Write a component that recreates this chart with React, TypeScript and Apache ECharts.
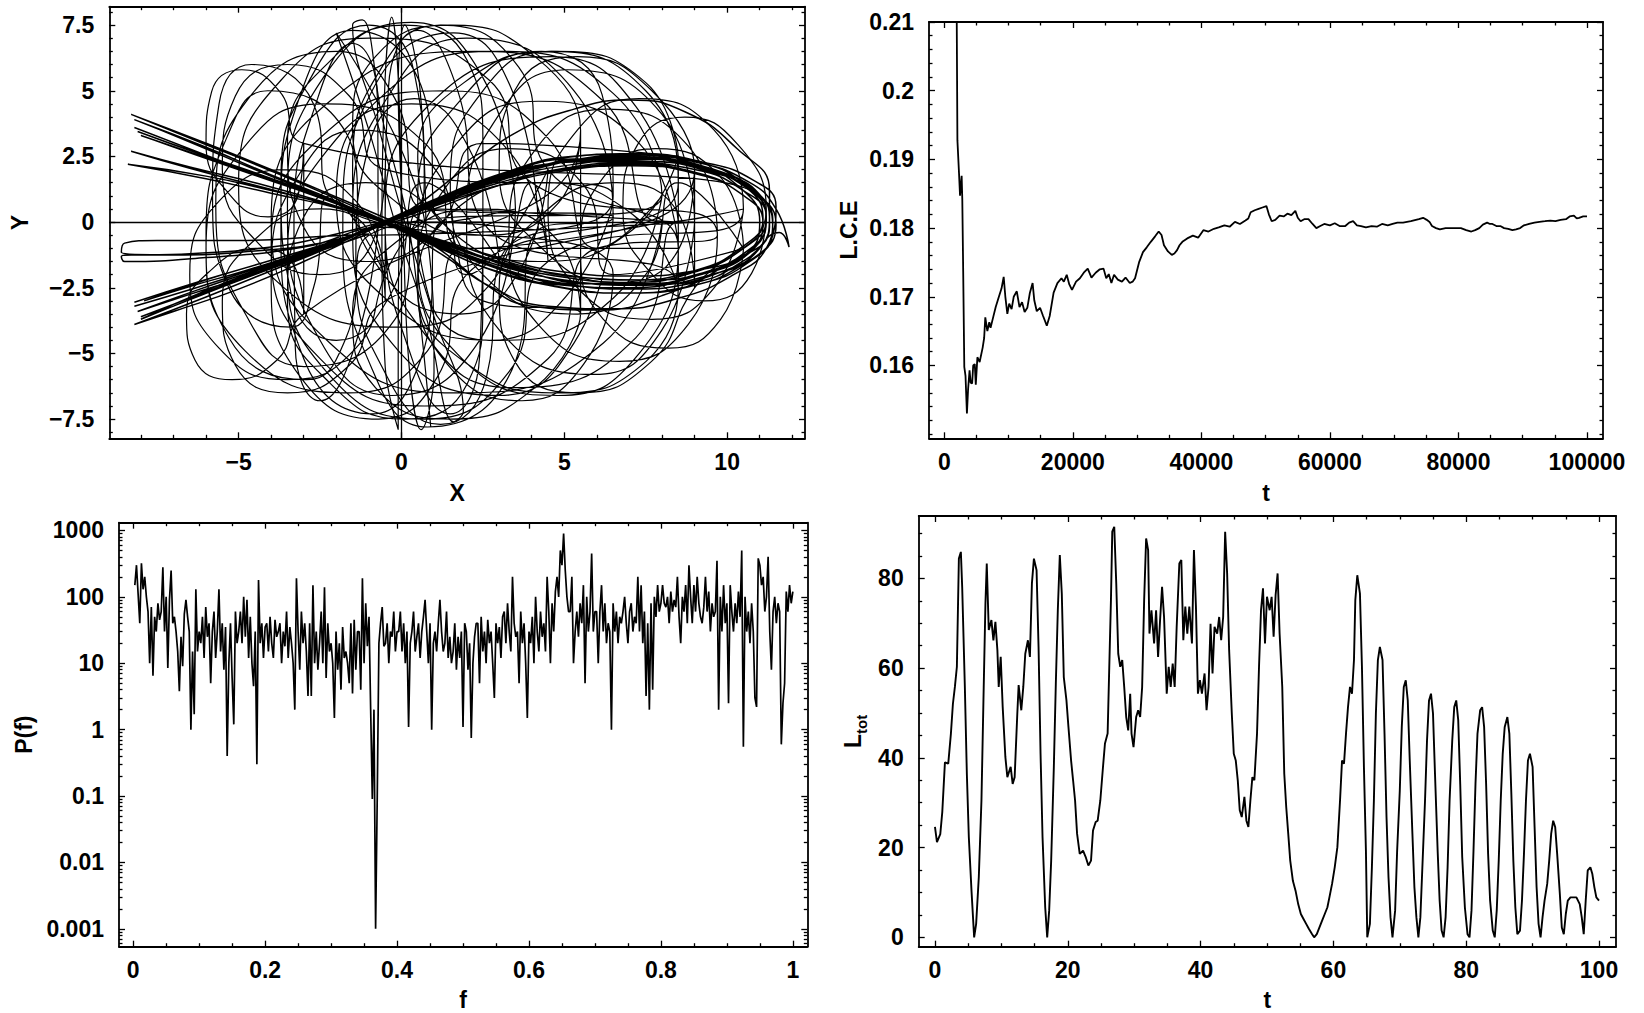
import React, { useEffect, useRef } from "react";
import * as echarts from "echarts";

const FONT = "'Liberation Sans', Arial, Helvetica, sans-serif";
const INK = "#000";

// ---------- Orbit in the (X, Y) plane, stored flat as x, y, x, y, ...
// Looping passes that fill the round cloud
const orbitLoops: number[] = [
  3.5, 0.5, 2.5, 5.5, 0.3, 7.6, -2.4, 5.5, -3.5, 0.5, -2.5, -4.5, -0.3, -6.6, 2.4, -4.5, 3.5, 0.5,
  1.3, 0, 0.6, 5.2, -1.5, 7.3, -3.0, 5.2, -3.7, 0, -3.0, -5.2, -0.9, -7.3, 0.6, -5.2, 1.3, 0,
  4.2, -0.3, 3.4, 5.0, 1.6, 7.2, -0.9, 5.0, -1.8, -0.3, -0.9, -5.6, 0.8, -7.8, 3.4, -5.6, 4.2, -0.3,
  6.5, 0.2, 5.3, 5.0, 2.0, 7.0, -0.3, 5.0, -1.5, 0.2, -0.3, -4.6, 3.0, -6.6, 5.3, -4.6, 6.5, 0.2,
  0.7, 0.5, -0.2, 4.7, -2.0, 6.5, -4.7, 4.7, -5.7, 0.5, -4.7, -3.7, -3.0, -5.5, -0.2, -3.7, 0.7, 0.5,
  8.5, 0, 7.2, 4.4, 4.6, 6.3, 0.8, 4.4, -0.5, 0, 0.8, -4.4, 3.4, -6.3, 7.2, -4.4, 8.5, 0,
  9.0, 0, 8.0, 4.1, 5.1, 5.8, 3.0, 4.1, 2.0, 0, 3.0, -4.1, 5.9, -5.8, 8.0, -4.1, 9.0, 0,
  -1.0, -0.5, -1.7, 3.4, -4.1, 5.0, -5.3, 3.4, -6.0, -0.5, -5.3, -4.4, -2.9, -6.0, -1.7, -4.4, -1.0, -0.5,
  8.0, 1.0, 6.5, 4.9, 3.0, 6.5, -0.5, 4.9, -2.0, 1.0, -0.5, -2.9, 3.0, -4.5, 6.5, -2.9, 8.0, 1.0,
  6.0, -1.0, 4.5, 3.2, 1.3, 5.0, -2.5, 3.2, -4.0, -1.0, -2.5, -5.2, 0.7, -7.0, 4.5, -5.2, 6.0, -1.0,
  9.7, -0.5, 8.8, 2.9, 6.3, 4.3, 4.2, 2.9, 3.3, -0.5, 4.2, -3.9, 6.7, -5.3, 8.8, -3.9, 9.7, -0.5,
  4.0, 1.5, 2.7, 5.4, -1.0, 7.0, -3.7, 5.4, -5.0, 1.5, -3.7, -2.4, 0.0, -4.0, 2.7, -2.4, 4.0, 1.5,
  4.5, -1.5, 3.3, 2.7, 0.3, 4.5, -2.3, 2.7, -3.5, -1.5, -2.3, -5.7, 0.7, -7.5, 3.3, -5.7, 4.5, -1.5,
  10.5, 0.5, 9.6, 3.5, 7.3, 4.7, 5.4, 3.5, 4.5, 0.5, 5.4, -2.5, 7.7, -3.7, 9.6, -2.5, 10.5, 0.5,
  8.0, 0, 6.2, 4.6, 2.3, 6.5, -2.2, 4.6, -4.0, 0, -2.2, -4.6, 1.7, -6.5, 6.2, -4.6, 8.0, 0,
  2.0, -1.0, 0.8, 2.9, -2.4, 4.5, -4.8, 2.9, -6.0, -1.0, -4.8, -4.9, -1.6, -6.5, 0.8, -4.9, 2.0, -1.0,
  8.5, -1.0, 7.3, 3.0, 4.2, 4.6, 1.7, 3.0, 0.5, -1.0, 1.7, -5.0, 4.8, -6.6, 7.3, -5.0, 8.5, -1.0,
  4.5, 2.0, 3.6, 5.9, 1.2, 7.5, -0.6, 5.9, -1.5, 2.0, -0.6, -1.9, 1.8, -3.5, 3.6, -1.9, 4.5, 2.0,
  2.0, -2.0, 1.1, 1.9, -1.3, 3.5, -3.1, 1.9, -4.0, -2.0, -3.1, -5.9, -0.7, -7.5, 1.1, -5.9, 2.0, -2.0,
  8.5, 1.5, 7.5, 5.0, 4.6, 6.5, 2.5, 5.0, 1.5, 1.5, 2.5, -2.0, 5.4, -3.5, 7.5, -2.0, 8.5, 1.5,
  10.5, -1.0, 9.8, 1.7, 7.8, 2.8, 6.2, 1.7, 5.5, -1.0, 6.2, -3.7, 8.2, -4.8, 9.8, -3.7, 10.5, -1.0,
  6.5, -2.0, 5.6, 1.4, 3.3, 2.8, 1.4, 1.4, 0.5, -2.0, 1.4, -5.4, 3.7, -6.8, 5.6, -5.4, 6.5, -2.0,
  -2.2, 1, -2.7, 4.5, -4.6, 6.0, -5.6, 4.5, -5.8, 1, -5.3, -2.5, -3.4, -4.0, -2.7, -2.5, -2.2, 1,
  -0.5, -2, -1.4, 0.8, -3.5, 2, -5.6, 0.8, -6.5, -2, -5.6, -4.8, -3.5, -6.0, -1.4, -4.8, -0.5, -2,
  0.7, 1.5, 0.39, 5.7, -1.0, 7.5, -2.69, 5.7, -3.7, 1.5, -3.39, -2.7, -2.0, -4.5, -0.31, -2.7, 0.7, 1.5,
  3.0, -1.5, 2.06, 2.84, 0.4, 4.7, -1.02, 2.84, -1.4, -1.5, -0.46, -5.84, 1.2, -7.7, 2.62, -5.84, 3.0, -1.5,
  6.5, 1, 6.16, 4.85, 4.3, 6.5, 1.96, 4.85, 0.5, 1, 0.84, -2.85, 2.7, -4.5, 5.04, -2.85, 6.5, 1,
  -0.5, 2, -1.6, 4.8, -3.5, 6, -5.1, 4.8, -5.5, 2, -4.4, -0.8, -2.5, -2, -0.9, -0.8, -0.5, 2,
  -0.5, -3, -0.9, -0.55, -2.5, 0.5, -4.4, -0.55, -5.5, -3, -5.1, -5.45, -3.5, -6.5, -1.6, -5.45, -0.5, -3,
  9, 2, 7.68, 5.01, 5.4, 6.3, 3.48, 5.01, 3, 2, 4.32, -1.01, 6.6, -2.3, 8.52, -1.01, 9, 2,
  9, -2.5, 8.52, 0.3, 6.6, 1.5, 4.32, 0.3, 3, -2.5, 3.48, -5.3, 5.4, -6.5, 7.68, -5.3, 9, -2.5,
  11.2, 0.5, 10.33, 2.95, 8.7, 4.0, 7.25, 2.95, 6.8, 0.5, 7.67, -1.95, 9.3, -3.0, 10.75, -1.95, 11.2, 0.5,
  -3, 3, -3.73, 4.96, -4.9, 5.8, -5.83, 4.96, -6, 3, -5.27, 1.04, -4.1, 0.2, -3.17, 1.04, -3, 3,
  -3, -3.5, -3.26, -1.75, -4.4, -1.0, -5.78, -1.75, -6.6, -3.5, -6.34, -5.25, -5.2, -6.0, -3.82, -5.25, -3, -3.5,
  5.5, 3.5, 4.1, 6.3, 1.5, 7.5, -0.8, 6.3, -1.5, 3.5, -0.1, 0.7, 2.5, -0.5, 4.8, 0.7, 5.5, 3.5,
  5.5, -3.5, 4.8, -0.7, 2.5, 0.5, -0.1, -0.7, -1.5, -3.5, -0.8, -6.3, 1.5, -7.5, 4.1, -6.3, 5.5, -3.5,
  2.5, -3, 1.18, 0.15, -1.1, 1.5, -3.02, 0.15, -3.5, -3, -2.18, -6.15, 0.1, -7.5, 2.02, -6.15, 2.5, -3,
  2.5, 3, 2.02, 6.15, 0.1, 7.5, -2.18, 6.15, -3.5, 3, -3.02, -0.15, -1.1, -1.5, 1.18, -0.15, 2.5, 3,
  8.5, 2.5, 7.51, 5.3, 4.8, 6.5, 1.91, 5.3, 0.5, 2.5, 1.49, -0.3, 4.2, -1.5, 7.09, -0.3, 8.5, 2.5,
  8.5, -2.5, 7.09, 0.3, 4.2, 1.5, 1.49, 0.3, 0.5, -2.5, 1.91, -5.3, 4.8, -6.5, 7.51, -5.3, 8.5, -2.5,
  2.5, 0, 1.7, 5.11, 0.5, 7.3, -0.4, 5.11, -0.5, 0, 0.3, -5.11, 1.5, -7.3, 2.4, -5.11, 2.5, 0,
  -0.7, 0, -0.74, 4.76, -1.5, 6.8, -2.56, 4.76, -3.3, 0, -3.26, -4.76, -2.5, -6.8, -1.44, -4.76, -0.7, 0,
];

// Nearly vertical passes through the centre
const orbitSpokes: number[] = [
  0.0, 0, -0.1, 5.5, -0.3, 7.8, -0.5, 5.5, -0.6, 0, -0.5, -5.5, -0.1, -7.9, -0.1, -5.5, 0.0, 0,
  0.75, -0.2, 0.55, 5.3, 0.1, 7.5, -0.1, 5.3, 0.05, -0.2, 0.25, -5.7, 0.6, -7.9, 1.0, -5.7, 0.75, -0.2,
  -2.0, 7.2, -1.0, 3.5, -0.2, 0, 0.8, -3.8, 1.6, -7.6, 1.9, -7.2, 1.0, -3.6, 0.1, 0, -0.7, 3.6,
  -1.5, 7.5, -1.2, 7.7, -0.6, 4, 0.2, 0, 0.6, -4, 0.9, -7.8,
];

// Figure-eight bundle: tips on the left, lobe on the right
const orbitBundle: number[] = [
  -8.2, 3.6, -6, 2.55, -4, 1.6, -2, 0.7, -0.6, 0.05, 1, -0.7, 3, -1.55, 5, -2.1, 7, -2.3, 9, -1.9, 10.5, -1.0, 11.2, 0.1, 10.8, 1.15, 9.5, 1.9, 7.5, 2.3, 5.5, 2.3, 3.5, 1.8, 1.5, 0.9, -0.5, -0.05, -2.5, -1.0, -4.5, -1.95, -6.5, -2.75, -8.1, -3.4,
  -6.3, -2.6, -4.3, -1.75, -2.3, -0.85, -0.6, -0.05, 1.2, 0.75, 3.2, 1.65, 5.3, 2.2, 7.5, 2.4, 9.6, 2.0, 11.0, 1.0, 11.5, -0.1, 11.0, -1.2, 9.5, -2.0, 7.5, -2.4, 5.5, -2.3, 3.5, -1.75, 1.5, -0.85, -0.5, 0.05, -2.3, 0.85, -4.3, 1.7, -6.3, 2.55, -8.0, 3.3,
  -6, 2.45, -4, 1.6, -2, 0.75, -0.5, 0, 1, -0.9, 2.5, -2.3, 4, -3.2, 6, -3.35, 8, -2.8, 10, -1.6, 11.3, -0.2, 11.3, 1.2, 10.3, 2.8, 8.7, 4.2, 7, 4.65, 5.3, 4.3, 3.5, 3.4, 1.8, 1.9, 0.3, 0.5, -1.2, -0.45, -3, -1.5, -5, -2.55, -7, -3.4, -8.2, -3.9,
  -6, -2.85, -4, -1.85, -2, -0.85, -0.6, 0, 1, 0.85, 3, 1.8, 5, 2.3, 7, 2.5, 9, 2.2, 10.5, 1.2, 11.0, 0, 10.6, -1.2, 9.2, -2.0, 7, -2.5, 5, -2.4, 3, -1.9, 1, -0.9, -0.7, 0.05, -2.5, 1.0, -4.5, 2.0, -6.5, 3.05, -8.2, 3.9,
  -6, 2.85, -4, 1.8, -2, 0.8, -0.7, 0.05, 0.8, -0.75, 2.8, -1.7, 4.8, -2.3, 7, -2.55, 9, -2.3, 10.6, -1.4, 11.6, -0.4, 11.9, -0.95, 11.5, 0.5, 10.7, 1.5, 9, 2.3, 7, 2.6, 5, 2.45, 3, 1.75, 1, 0.7, -0.8, -0.2, -2.8, -1.05, -4.8, -1.85, -6.5, -2.45, -7.9, -3.0,
  -6, -2.2, -4, -1.45, -2, -0.7, -0.6, -0.1, 1, 0.6, 3, 1.4, 5, 1.95, 7, 2.15, 9, 1.85, 10.4, 1.1, 11.1, 0, 10.7, -1.1, 9.2, -1.8, 7, -2.05, 5, -1.9, 3, -1.35, 1, -0.6, -0.7, 0.05, -2.5, 0.75, -4.5, 1.4, -6.5, 2.05, -8.3, 2.7,
  -6.5, 2.1, -4.5, 1.5, -2.5, 0.8, -0.8, 0.1, 1, -0.8, 3, -1.8, 5, -2.5, 7, -2.7, 9, -2.4, 10.7, -1.5, 11.4, -0.3, 11.1, 0.9, 10, 1.8, 8, 2.3, 6, 2.35, 4, 2.0, 2, 1.2, 0, 0.2, -2, -0.75, -4, -1.65, -6, -2.6, -8.0, -3.7,
  -6.5, -2.95, -4.5, -2.0, -2.5, -1.1, -1.0, -0.45, -2.5, -0.55, -5, -0.7, -7.5, -0.7, -8.5, -0.8, -8.6, -1.15, -7, -1.25, -4.5, -1.1, -2.5, -0.8, -1, -0.3, 1, 0.5, 3, 1.4, 5, 2.05, 7, 2.25, 9, 2.0, 10.5, 1.2, 11.2, 0.2, 10.9, -0.9, 9.6, -1.8, 7.5, -2.2, 5.5, -2.1, 3.5, -1.6, 1.5, -0.8, -0.5, -0.2, -3, -0.95, -6, -1.35, -8.5, -1.5, -8.6, -1.3, -6.5, -1.2, -4, -0.95, -2, -0.45, -0.5, 0.05, 1, 0.65, 3, 1.5, 5, 2.0, 7, 2.2, 9, 1.9, 10.4, 1.1, 11.1, 0, 10.7, -1.15, 9.3, -1.95, 7.3, -2.35, 5.3, -2.35, 3.3, -1.85, 1.3, -0.9, -0.5, 0, -2, 0.55, -4, 1.1, -6, 1.65, -8.4, 2.2,
  -6, 1.75, -4, 1.2, -2, 0.6, -0.5, 0, 1, -0.65, 3, -1.5, 5, -2.0, 7, -2.2, 9, -1.85, 10.4, -1.0, 11.1, 0.1, 10.7, 1.2, 9.3, 2.0, 7.3, 2.4, 5.3, 2.4, 3.3, 1.9, 1.3, 0.9, -0.5, 0, -2.3, -0.85, -4.3, -1.7, -6.3, -2.5, -8.2, -3.2,
  -6.3, -2.5, -4.3, -1.7, -2.3, -0.85, -0.5, 0, 1.2, 0.8, 3, 1.7, 5, 2.3, 7, 2.55, 9, 2.3, 10.6, 1.4, 11.3, 0.2, 11.0, -1.0, 9.8, -1.9, 8, -2.35, 6, -2.35, 4, -1.95, 2, -1.1, 0, -0.1, -1.8, 0.85, -3.8, 1.9, -6, 3.0, -8.3, 4.1,
  -6.2, 3.05, -4.2, 2.05, -2.2, 1.0, -0.6, 0.1, 0.9, -0.8, 2.7, -1.8, 4.7, -2.45, 6.8, -2.7, 8.8, -2.45, 10.5, -1.6, 11.4, -0.5, 11.5, 0.6, 10.8, 1.6, 9.2, 2.3, 7.2, 2.6, 5.2, 2.5, 3.2, 1.9, 1.2, 0.95, -0.6, 0, -2.4, -0.95, -4.4, -1.9, -6.3, -2.8, -8.0, -3.6,
  -6.2, -2.75, -4.2, -1.8, -2.2, -0.9, -0.6, -0.05, 1, 0.8, 3, 1.75, 5, 2.3, 7, 2.45, 9, 2.15, 10.6, 1.3, 11.4, 0.1, 11.2, -1.0, 10.2, -2.0, 8.5, -2.9, 6.5, -3.3, 4.5, -3.2, 2.8, -2.5, 1.2, -1.2, -0.5, 0, -2.2, 0.85, -4.2, 1.75, -6.2, 2.6, -8.1, 3.45,
  -6.1, 2.55, -4.1, 1.7, -2.1, 0.8, -0.6, 0.05, 1, -0.75, 3, -1.65, 5, -2.2, 7, -2.4, 9, -2.05, 10.5, -1.2, 11.2, 0, 10.9, 1.1, 9.7, 1.95, 7.7, 2.4, 5.7, 2.4, 3.7, 1.9, 1.7, 1.0, -0.5, -0.05, -2.4, -0.85, -4.4, -1.6, -6.3, -2.3, -8.2, -3.05,
];

// ---------- Lyapunov characteristic exponent vs t
const lceSeries: number[][] = [
  [1700, 0.25], [2040, 0.1928], [2290, 0.188], [2450, 0.1847], [2700, 0.1876], [2800, 0.1842], [2940, 0.1737], [3110, 0.1598], [3300, 0.1585], [3520, 0.153],
  [3700, 0.1565], [3930, 0.1593], [4100, 0.1575], [4330, 0.1574], [4500, 0.16], [4740, 0.1602], [4900, 0.1572], [5150, 0.1612], [5500, 0.1605], [5970, 0.1626],
  [6200, 0.164], [6380, 0.167], [6700, 0.165], [7000, 0.1663], [7200, 0.1655], [7600, 0.167], [8000, 0.1685], [8420, 0.1698], [8900, 0.1712], [9240, 0.1729],
  [9500, 0.17], [9810, 0.1675], [10100, 0.169], [10470, 0.1682], [10800, 0.17], [11280, 0.1708], [11700, 0.1685], [12100, 0.1692], [12500, 0.1678], [12920, 0.1684],
  [13300, 0.1705], [13740, 0.172], [14000, 0.1695], [14390, 0.1679], [14900, 0.1684], [15370, 0.1672], [15950, 0.1658], [16400, 0.1672], [17010, 0.1706], [17600, 0.172],
  [18230, 0.1727], [18600, 0.1722], [19050, 0.1732], [19450, 0.1718], [19870, 0.171], [20500, 0.1722], [21100, 0.1727], [21700, 0.1735], [22320, 0.1741], [22900, 0.1728],
  [23550, 0.1735], [24200, 0.174], [24780, 0.1741], [25200, 0.1727], [25590, 0.1733], [26000, 0.172], [26410, 0.1732], [27000, 0.1725], [27640, 0.1722], [28200, 0.1728],
  [28860, 0.172], [29300, 0.1722], [29680, 0.1727], [30300, 0.175], [30910, 0.1765], [31500, 0.1772], [32130, 0.178], [32800, 0.1788], [33360, 0.1795], [33800, 0.179],
  [34180, 0.1775], [34800, 0.1766], [35400, 0.1761], [35800, 0.1763], [36220, 0.1768], [36600, 0.1775], [37040, 0.178], [37800, 0.1785], [38680, 0.1789], [39500, 0.1786],
  [40310, 0.1797], [41100, 0.1795], [41950, 0.1799], [42700, 0.1801], [43580, 0.1804], [44400, 0.1802], [45220, 0.1809], [46000, 0.1806], [46850, 0.1811], [47300, 0.1814],
  [47670, 0.1823], [48300, 0.1826], [48900, 0.1828], [49500, 0.183], [50120, 0.1832], [50500, 0.182], [50940, 0.181], [51500, 0.1812], [52170, 0.1818], [52800, 0.1817],
  [53390, 0.1821], [54000, 0.1819], [54620, 0.1825], [55000, 0.1815], [55440, 0.181], [56000, 0.1813], [56660, 0.1813], [57300, 0.1806], [57890, 0.18], [58500, 0.1803],
  [59120, 0.1806], [60000, 0.1804], [60750, 0.1807], [61500, 0.1803], [62390, 0.1803], [63000, 0.1808], [63610, 0.181], [64200, 0.1804], [64840, 0.1803], [65600, 0.1801],
  [66480, 0.1803], [67300, 0.1802], [68110, 0.1806], [69000, 0.1804], [69750, 0.1806], [70500, 0.1808], [71380, 0.1808], [72600, 0.181], [73840, 0.1813], [74500, 0.1815],
  [75060, 0.1812], [75500, 0.1809], [75880, 0.1803], [76500, 0.18], [77110, 0.1798], [78000, 0.18], [78740, 0.18], [79500, 0.18], [80380, 0.18], [81200, 0.1797],
  [82010, 0.1795], [82600, 0.1797], [83240, 0.18], [83800, 0.1805], [84460, 0.1808], [84900, 0.1806], [85280, 0.1806], [85900, 0.1803], [86510, 0.1803], [87100, 0.18],
  [87740, 0.1799], [88400, 0.1797], [88960, 0.1798], [89600, 0.18], [90190, 0.1804], [91000, 0.1806], [91820, 0.1808], [92600, 0.1809], [93460, 0.181], [94300, 0.1811],
  [95090, 0.181], [95900, 0.1812], [96730, 0.1813], [97300, 0.1817], [97960, 0.1818], [98400, 0.1814], [98770, 0.1815], [99400, 0.1817], [100000, 0.1817],
];

// ---------- Power spectrum P(f), sampled every 0.0025 in f starting at 0.0025
const spectrumStep = 0.0025;
const spectrumValues: number[] = [
  150, 300, 110, 40, 320, 130, 200, 100,
  60, 10, 70, 6.5, 50, 30, 80, 45,
  60, 280, 30, 100, 8.5, 90, 250, 40,
  50, 30, 15, 3.8, 25, 9, 55, 90,
  50, 30, 1.0, 15, 1.7, 130, 15, 30,
  20, 50, 12, 70, 25, 40, 5, 30,
  60, 12, 30, 130, 15, 40, 8, 35,
  0.4, 10, 40, 6, 1.2, 60, 20, 30,
  60, 20, 100, 25, 90, 12, 50, 10,
  4.5, 30, 0.3, 180, 20, 40, 12, 35,
  40, 15, 50, 20, 12, 45, 25, 30,
  40, 10, 30, 18, 60, 12, 35, 20,
  10, 2, 190, 30, 8, 60, 20, 40,
  15, 3.2, 40, 3.2, 150, 10, 30, 8,
  20, 60, 10, 140, 6, 40, 15, 20,
  10, 1.5, 30, 8, 20, 4, 35, 12,
  15, 10, 5, 40, 3.5, 45, 8, 30,
  30, 4, 190, 10, 80, 18, 50, 2,
  0.09, 2, 0.001, 0.1, 20, 40, 70, 18,
  20, 40, 10, 30, 25, 60, 15, 30,
  30, 60, 15, 40, 10, 30, 1.1, 20,
  30, 60, 15, 25, 40, 12, 30, 50,
  90, 30, 10, 40, 1.0, 20, 30, 15,
  40, 90, 30, 15, 20, 60, 12, 25,
  10, 15, 40, 8, 25, 12, 30, 1.1,
  40, 30, 8, 20, 0.75, 10, 25, 40,
  40, 5, 50, 15, 30, 10, 45, 20,
  30, 10, 3, 40, 20, 35, 12, 50,
  60, 20, 80, 30, 15, 200, 40, 25,
  30, 5, 60, 20, 40, 10, 1.5, 30,
  20, 50, 10, 100, 30, 15, 60, 25,
  40, 15, 200, 60, 10, 80, 30, 120,
  200, 100, 500, 300, 900, 250, 100, 60,
  60, 200, 10, 30, 60, 25, 80, 40,
  150, 5, 100, 30, 60, 450, 30, 60,
  60, 10, 60, 150, 30, 80, 20, 40,
  30, 1.0, 80, 30, 60, 20, 50, 40,
  60, 100, 40, 20, 60, 80, 30, 50,
  40, 200, 30, 150, 20, 60, 3.2, 40,
  2, 80, 4, 100, 50, 150, 60, 80,
  150, 80, 70, 100, 40, 120, 60, 90,
  70, 200, 50, 20, 100, 60, 150, 40,
  300, 100, 40, 150, 60, 200, 80, 50,
  40, 70, 200, 60, 120, 30, 80, 50,
  60, 350, 2, 100, 30, 150, 40, 80,
  2.5, 150, 60, 30, 80, 40, 120, 50,
  500, 0.55, 100, 30, 60, 20, 80, 30,
  3, 2.2, 380, 300, 150, 200, 60, 100,
  400, 30, 8, 60, 100, 40, 80, 60,
  0.6, 2.5, 5, 120, 60, 150, 80, 120,
];

// ---------- Total angular momentum L_tot vs t
const ltotSeries: number[][] = [
  [0, 24.6], [0.3, 21.2], [0.8, 23], [1.1, 27.9], [1.5, 39], [2.0, 38.7], [2.4, 45.4], [2.7, 52], [3.0, 55.8], [3.3, 60.3],
  [3.6, 84.4], [3.9, 85.9], [4.1, 78], [4.5, 55.8], [4.8, 36.5], [5.1, 22.3], [5.5, 10.4], [5.9, 0], [6.2, 3], [6.6, 13.4],
  [7.0, 30.5], [7.3, 52.8], [7.6, 74.4], [7.8, 83.3], [8.1, 68.5], [8.5, 70.7], [8.8, 66.2], [9.1, 70.3], [9.4, 64], [9.6, 55.8],
  [9.9, 62.5], [10.2, 51.3], [10.6, 40.2], [10.9, 35.7], [11.4, 38], [11.7, 34.2], [12.0, 35.7], [12.4, 49.9], [12.6, 56.2], [13.0, 50.6],
  [13.3, 55.8], [13.6, 63.2], [14.0, 66.2], [14.3, 62.5], [14.6, 78.9], [14.9, 84.4], [15.3, 81.8], [15.6, 64.7], [15.9, 40.9], [16.2, 22.3],
  [16.6, 6.7], [16.9, 0], [17.2, 6], [17.5, 17.1], [17.9, 37.9], [18.2, 56.5], [18.5, 72.9], [18.8, 85.2], [19.1, 76.6], [19.4, 58],
  [19.8, 52.8], [20.1, 46.9], [20.5, 39.4], [20.8, 35], [21.1, 30.5], [21.4, 23.1], [21.8, 18.6], [22.3, 19.3], [22.7, 17.9], [23.1, 16],
  [23.5, 17.1], [23.8, 23.8], [24.2, 25.7], [24.5, 26], [24.9, 30.5], [25.3, 37.9], [25.6, 43.2], [26.0, 45.4], [26.2, 57.3], [26.5, 75.1],
  [26.7, 90.4], [27.0, 91.5], [27.3, 78.9], [27.6, 63.2], [27.9, 60.3], [28.2, 61.8], [28.5, 55.8], [28.8, 49.1], [29.1, 46.1], [29.4, 54.3],
  [29.6, 45.4], [29.9, 42.4], [30.3, 49.1], [30.6, 50.6], [30.9, 49.1], [31.2, 55.8], [31.5, 75.1], [31.8, 88.9], [32.1, 86.3], [32.3, 67.7],
  [32.6, 72.9], [33.0, 65.5], [33.3, 72.9], [33.6, 62.5], [33.9, 70.7], [34.2, 78.1], [34.5, 71.4], [34.9, 54.3], [35.2, 60.3], [35.5, 55.8],
  [35.8, 61], [36.1, 55.8], [36.4, 69.2], [36.8, 83.3], [37.1, 84.1], [37.4, 66.2], [37.7, 73.7], [38.0, 67.7], [38.3, 73.7], [38.7, 65.5],
  [39.0, 86.3], [39.3, 73.7], [39.6, 54.3], [39.9, 57.3], [40.2, 54.3], [40.6, 58.8], [40.9, 50.6], [41.2, 55.8], [41.5, 69.9], [41.8, 58.8],
  [42.1, 69.2], [42.5, 67.7], [42.8, 71.4], [43.1, 66.2], [43.4, 71.4], [43.7, 90.4], [44.0, 81.1], [44.3, 64], [44.7, 49.9], [45.0, 40.9],
  [45.3, 39.4], [45.6, 35], [45.9, 28.3], [46.2, 26.8], [46.6, 31.3], [46.9, 26], [47.2, 24.6], [47.5, 30.5], [47.8, 35.7], [48.1, 35],
  [48.5, 45.4], [48.8, 60.3], [49.1, 72.9], [49.4, 77.8], [49.7, 65.5], [50.0, 75.9], [50.4, 72.9], [50.7, 75.9], [51.0, 67], [51.3, 76.3],
  [51.6, 81.1], [51.9, 67.7], [52.3, 55.8], [52.6, 36.5], [52.9, 29], [53.2, 23.1], [53.5, 17.1], [53.9, 12.6], [54.3, 10.4], [54.7, 7.4],
  [55.1, 5.2], [55.5, 4.1], [55.9, 3], [56.3, 1.9], [56.8, 0.7], [57.1, 0], [57.5, 0.7], [57.9, 2.2], [58.3, 3.7], [58.7, 5.2],
  [59.1, 6.7], [59.4, 8.9], [59.8, 11.9], [60.2, 15.6], [60.6, 20.1], [61.0, 30.5], [61.3, 39.4], [61.6, 38.7], [61.9, 45.4], [62.2, 51.3],
  [62.5, 55.8], [62.8, 54.3], [63.1, 61.8], [63.3, 75.1], [63.6, 80.7], [64.0, 76.6], [64.3, 60.3], [64.6, 37.9], [64.9, 19.3], [65.1, 0],
  [65.5, 3], [65.8, 15.6], [66.1, 30.5], [66.4, 49.9], [66.7, 61.8], [67.0, 64.7], [67.4, 61.8], [67.7, 45.4], [68.0, 26.8], [68.3, 13.4],
  [68.6, 4.5], [68.9, 0], [69.3, 6], [69.6, 19.3], [70.0, 32.7], [70.3, 46.9], [70.6, 55.8], [70.9, 57.3], [71.2, 52.8], [71.5, 39.4],
  [71.9, 23.1], [72.2, 11.2], [72.5, 4.5], [72.8, 0], [73.1, 4.5], [73.4, 15.6], [73.8, 30.5], [74.1, 43.9], [74.4, 52.8], [74.7, 54.3],
  [75.0, 49.9], [75.3, 36.5], [75.7, 19.3], [76.0, 8.2], [76.3, 1.5], [76.6, 0], [76.9, 4.5], [77.2, 15.6], [77.5, 30.5], [77.9, 43.9],
  [78.2, 51.3], [78.5, 52.8], [78.8, 48.4], [79.1, 34.2], [79.4, 17.9], [79.8, 6.7], [80.2, 0.7], [80.5, 0], [80.8, 6], [81.1, 19.3],
  [81.4, 34.2], [81.7, 45.4], [82.1, 50.6], [82.4, 51.3], [82.7, 46.9], [83.0, 34.2], [83.3, 18.6], [83.6, 8.2], [84.0, 1.5], [84.3, 0],
  [84.6, 6], [84.9, 17.1], [85.2, 30.5], [85.5, 40.9], [85.8, 46.9], [86.2, 49.1], [86.5, 45.4], [86.8, 32], [87.1, 17.1], [87.4, 6.7],
  [87.7, 0.7], [88.1, 1.5], [88.4, 8.2], [88.7, 18.6], [89.0, 30.5], [89.3, 39.4], [89.6, 40.9], [90.0, 38], [90.3, 24.6], [90.6, 11.2],
  [90.9, 3], [91.2, 0], [91.5, 4.5], [91.8, 8.2], [92.2, 11.9], [92.5, 17.1], [92.8, 23.1], [93.1, 26], [93.4, 24.6], [93.7, 18.6],
  [94.1, 9.7], [94.4, 2.2], [94.7, 0.7], [95.0, 5.2], [95.3, 8.2], [95.7, 8.9], [96.1, 8.9], [96.6, 8.9], [97.1, 7.4], [97.4, 4.5],
  [97.7, 0.7], [98.0, 8.2], [98.3, 14.9], [98.7, 15.6], [99.0, 14.1], [99.3, 11.2], [99.6, 8.9], [100, 8.2],
];

// ---------- Tick marks
const orbitXTicks = [-5, 0, 5, 10];
const orbitYTicks = [-7.5, -5, -2.5, 0, 2.5, 5, 7.5];
const lceTTicks = [0, 20000, 40000, 60000, 80000, 100000];
const lceVTicks = [0.16, 0.17, 0.18, 0.19, 0.2, 0.21];
const freqTicks = [0, 0.2, 0.4, 0.6, 0.8, 1];
const powerTicks = [0.001, 0.01, 0.1, 1, 10, 100, 1000];
const powerTickLabels = ["0.001", "0.01", "0.1", "1", "10", "100", "1000"];
const ltotTTicks = [0, 20, 40, 60, 80, 100];
const ltotLTicks = [0, 20, 40, 60, 80];

function pairs(flat: number[]): number[][] {
  const out: number[][] = [];
  for (let i = 0; i + 1 < flat.length; i += 2) out.push([flat[i], flat[i + 1]]);
  return out;
}

function stepTicks(from: number, to: number, step: number, skip: number[]): number[] {
  const out: number[] = [];
  const n = Math.round((to - from) / step);
  for (let i = 0; i <= n; i++) {
    const v = Math.round((from + i * step) * 1e6) / 1e6;
    if (!skip.some((s) => Math.abs(s - v) < step * 1e-3)) out.push(v);
  }
  return out;
}

function decadeTicks(lo: number, hi: number): number[] {
  const out: number[] = [];
  for (let e = -4; e <= 3; e++) {
    for (let k = 2; k <= 9; k++) {
      const v = Number((k * Math.pow(10, e)).toPrecision(3));
      if (v > lo && v < hi) out.push(v);
    }
  }
  return out;
}

const minus = (v: number) => (v < 0 ? "\u2212" + String(Math.abs(v)) : String(v));

const labelFont = { fontFamily: FONT, fontWeight: "bold" as const, fontSize: 23, color: INK };
const frameLine = { color: INK, width: 1.8 };
const tickLine = { color: INK, width: 1.3 };

type AxisSpec = {
  type: "value" | "log";
  min: number;
  max: number;
  majors: number[];
  minors: number[];
  format: (v: number) => string;
  name: string;
  nameGap: number;
  nameStyle?: any;
  labelMargin: number;
};

// Four axes per direction: labelled frame edge, opposite frame edge, and minor ticks on both edges
function frameAxes(dim: "x" | "y", gridIndex: number, spec: AxisSpec, list: any[]): number {
  const lo = dim === "x" ? "bottom" : "left";
  const hi = dim === "x" ? "top" : "right";
  const base: any = {
    type: spec.type,
    gridIndex,
    min: spec.min,
    max: spec.max,
    splitLine: { show: false },
    minorTick: { show: false },
  };
  if (spec.type === "log") base.logBase = 10;
  const mainIndex = list.length;
  list.push({
    ...base,
    position: lo,
    name: spec.name,
    nameLocation: "middle",
    nameGap: spec.nameGap,
    nameTextStyle: { ...labelFont, ...(dim === "x" ? { lineHeight: 20 } : {}), ...(spec.nameStyle || {}) },
    axisLine: { show: true, onZero: false, lineStyle: frameLine },
    axisTick: { show: true, inside: true, length: 6, customValues: spec.majors, lineStyle: tickLine },
    axisLabel: { show: true, customValues: spec.majors, formatter: spec.format, margin: spec.labelMargin, ...labelFont },
  });
  list.push({
    ...base,
    position: hi,
    axisLine: { show: true, onZero: false, lineStyle: frameLine },
    axisTick: { show: true, inside: true, length: 6, customValues: spec.majors, lineStyle: tickLine },
    axisLabel: { show: false },
  });
  for (const pos of [lo, hi]) {
    list.push({
      ...base,
      position: pos,
      axisLine: { show: false, onZero: false },
      axisTick: { show: true, inside: true, length: 3.5, customValues: spec.minors, lineStyle: tickLine },
      axisLabel: { show: false },
    });
  }
  return mainIndex;
}

function buildOption() {
  const xAxes: any[] = [];
  const yAxes: any[] = [];

  const grids = [
    { left: 109.3, top: 6.7, width: 695.7, height: 431.6 },
    { left: 929, top: 22, width: 674, height: 416.3 },
    { left: 119, top: 522.7, width: 688.3, height: 424 },
    { left: 918.7, top: 516, width: 697.3, height: 430.7 },
  ].map((g) => ({ ...g, containLabel: false, outerBoundsMode: "none", show: false }));

  const powerMin = 0.000537;
  const powerMax = 1309;

  const ox = frameAxes("x", 0, {
    type: "value", min: -8.97, max: 12.39, majors: orbitXTicks,
    minors: stepTicks(-8, 12, 1, orbitXTicks), format: minus, name: "X", nameGap: 45, labelMargin: 12,
  }, xAxes);
  const oy = frameAxes("y", 0, {
    type: "value", min: -8.23, max: 8.2, majors: orbitYTicks,
    minors: stepTicks(-8, 8, 0.5, orbitYTicks), format: minus, name: "Y", nameGap: 78, labelMargin: 15,
  }, yAxes);

  const lx = frameAxes("x", 1, {
    type: "value", min: -2380, max: 102490, majors: lceTTicks,
    minors: stepTicks(0, 100000, 5000, lceTTicks), format: (v) => String(v), name: "t", nameGap: 45, labelMargin: 12,
  }, xAxes);
  const ly = frameAxes("y", 1, {
    type: "value", min: 0.1494, max: 0.21, majors: lceVTicks,
    minors: stepTicks(0.15, 0.21, 0.002, lceVTicks), format: (v) => String(Number(v.toFixed(3))), name: "L.C.E", nameGap: 69, labelMargin: 15,
  }, yAxes);

  const fx = frameAxes("x", 2, {
    type: "value", min: -0.0215, max: 1.0219, majors: freqTicks,
    minors: stepTicks(0, 1, 0.05, freqTicks), format: (v) => String(Number(v.toFixed(2))), name: "f", nameGap: 43, labelMargin: 12,
  }, xAxes);
  const fy = frameAxes("y", 2, {
    type: "log", min: powerMin, max: powerMax, majors: powerTicks,
    minors: decadeTicks(powerMin, powerMax),
    format: (v) => powerTickLabels[Math.round(Math.log10(v)) + 3] ?? String(v),
    name: "P(f)", nameGap: 84, labelMargin: 15,
  }, yAxes);

  const tx = frameAxes("x", 3, {
    type: "value", min: -2.45, max: 102.56, majors: ltotTTicks,
    minors: stepTicks(0, 100, 5, ltotTTicks), format: (v) => String(v), name: "t", nameGap: 43, labelMargin: 12,
  }, xAxes);
  const ty = frameAxes("y", 3, {
    type: "value", min: -2.09, max: 93.9, majors: ltotLTicks,
    minors: stepTicks(0, 90, 5, ltotLTicks), format: (v) => String(v), name: "{m|L}{s|tot}", nameGap: 50, labelMargin: 15,
    nameStyle: {
      rich: {
        m: { ...labelFont },
        s: { fontFamily: FONT, fontWeight: "bold", fontSize: 15, color: INK, padding: [16, 0, 0, 0] },
      },
    },
  }, yAxes);

  const lineBase = {
    type: "line",
    showSymbol: false,
    symbol: "none",
    silent: true,
    animation: false,
    clip: true,
  };

  const spectrumData = spectrumValues.map((p, i) => [Number(((i + 1) * spectrumStep).toFixed(4)), p]);

  return {
    animation: false,
    backgroundColor: "#fff",
    textStyle: { fontFamily: FONT },
    grid: grids,
    xAxis: xAxes,
    yAxis: yAxes,
    series: [
      {
        ...lineBase,
        xAxisIndex: ox,
        yAxisIndex: oy,
        data: pairs(orbitLoops),
        smooth: 0.5,
        lineStyle: { color: INK, width: 1.2 },
        markLine: {
          silent: true,
          symbol: ["none", "none"],
          label: { show: false },
          animation: false,
          lineStyle: { color: INK, width: 1.3, type: "solid" },
          data: [{ xAxis: 0 }, { yAxis: 0 }],
        },
      },
      { ...lineBase, xAxisIndex: ox, yAxisIndex: oy, data: pairs(orbitSpokes), smooth: 0.4, lineStyle: { color: INK, width: 1.2 } },
      { ...lineBase, xAxisIndex: ox, yAxisIndex: oy, data: pairs(orbitBundle), smooth: 0.5, lineStyle: { color: INK, width: 1.5 } },
      { ...lineBase, xAxisIndex: lx, yAxisIndex: ly, data: lceSeries, lineStyle: { color: INK, width: 1.8 } },
      { ...lineBase, xAxisIndex: fx, yAxisIndex: fy, data: spectrumData, lineStyle: { color: INK, width: 1.7 } },
      { ...lineBase, xAxisIndex: tx, yAxisIndex: ty, data: ltotSeries, lineStyle: { color: INK, width: 1.9 } },
    ],
  };
}

export default function App() {
  const ref = useRef<HTMLDivElement | null>(null);
  useEffect(() => {
    if (!ref.current) return;
    const chart = echarts.init(ref.current, undefined, { renderer: "svg", width: 1644, height: 1013 });
    chart.setOption(buildOption() as any);
    return () => chart.dispose();
  }, []);
  return (
    <div
      ref={ref}
      style={{ position: "fixed", left: 0, top: 0, width: 1644, height: 1013, background: "#fff" }}
    />
  );
}
